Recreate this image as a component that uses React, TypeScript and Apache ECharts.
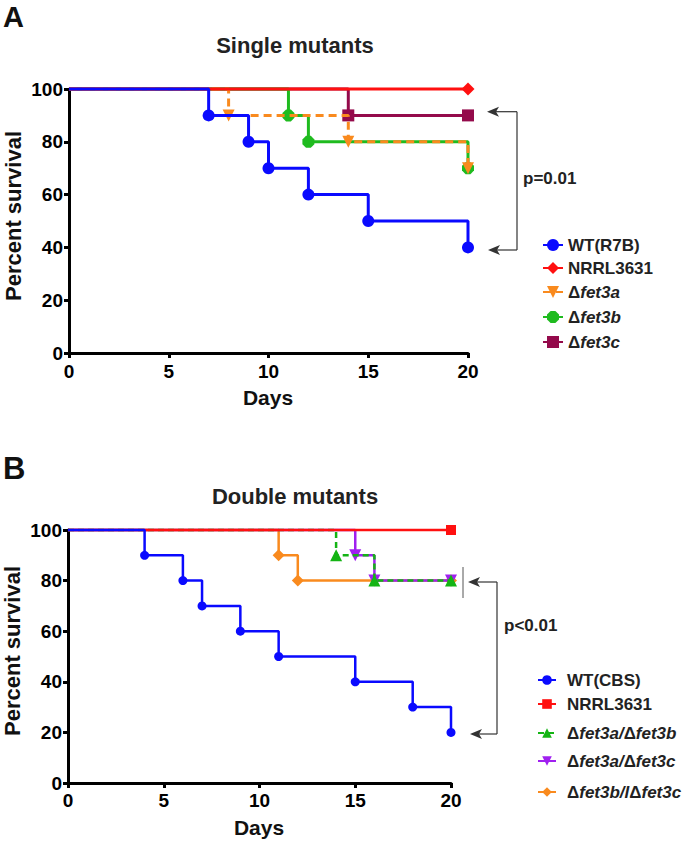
import React, { useEffect, useRef } from "react";
import * as echarts from "echarts";

const FONT = "'Liberation Sans', Arial, Helvetica, sans-serif";

// ---- Data (days, percent survival) ----
const xTicks = [0, 5, 10, 15, 20];
const yTicks = [0, 20, 40, 60, 80, 100];

// Panel A: single mutants
const aWT = [[0, 100], [7, 90], [9, 80], [10, 70], [12, 60], [15, 50], [20, 40]];
const aNRRL = [[0, 100], [20, 100]];
const aFet3a = [[0, 100], [8, 90], [14, 80], [20, 70]];
const aFet3b = [[0, 100], [11, 90], [12, 80], [20, 70]];
const aFet3c = [[0, 100], [14, 90], [20, 90]];

// Panel B: double mutants
const bWT = [[0, 100], [4, 90], [6, 80], [7, 70], [9, 60], [11, 50], [15, 40], [18, 30], [20, 20]];
const bNRRL = [[0, 100], [20, 100]];
const bFet3ab = [[0, 100], [14, 90], [16, 80], [20, 80]];
const bFet3ac = [[0, 100], [15, 90], [16, 80], [20, 80]];
const bFet3bc = [[0, 100], [11, 90], [12, 80], [20, 80]];

// legend labels
const legendA = ["WT(R7B)", "NRRL3631", "Δfet3a", "Δfet3b", "Δfet3c"];
const legendB = ["WT(CBS)", "NRRL3631", "Δfet3a/Δfet3b", "Δfet3a/Δfet3c", "Δfet3b/lΔfet3c"];
const seriesKeysA = ["A_WT", "A_NRRL", "A_fet3a", "A_fet3b", "A_fet3c"];
const seriesKeysB = ["B_WT", "B_NRRL", "B_fet3ab", "B_fet3ac", "B_fet3bc"];

const titles = ["Single mutants", "Double mutants"];
const pTexts = ["p=0.01", "p<0.01"];

const OCTAGON = "path://M30,0 L70,0 L100,30 L100,70 L70,100 L30,100 L0,70 L0,30 Z";

function toRich(label: string): string {
  if (label.indexOf("Δ") < 0) return label;
  const parts = label.split("Δ");
  let out = "";
  parts.forEach((p, i) => {
    if (i > 0) out += "{n|Δ}";
    if (p.length) out += "{i|" + p + "}";
  });
  return out;
}

function km(
  key: string,
  data: number[][],
  grid: number,
  color: string,
  symbol: string,
  size: number,
  width: number,
  opts: any = {}
) {
  return {
    type: "line",
    name: key,
    xAxisIndex: grid,
    yAxisIndex: grid,
    step: "end",
    clip: false,
    symbol,
    symbolSize: size,
    symbolRotate: opts.rotate || 0,
    showAllSymbol: true,
    data: data.map((p, i) => (i === 0 ? { value: p, symbol: "none" } : { value: p })),
    lineStyle: { color, width, type: opts.dash || "solid", cap: "butt" },
    itemStyle: { color },
    emphasis: { disabled: true },
    z: opts.z || 2,
  };
}

const axisCommon = (grid: number) => ({
  type: "value",
  gridIndex: grid,
  axisLine: { show: true, onZero: false, lineStyle: { color: "#000", width: 3 } },
  axisTick: { show: true, length: 5, lineStyle: { color: "#000", width: 3 } },
  splitLine: { show: false },
});

export default function App() {
  const ref = useRef<HTMLDivElement>(null);

  useEffect(() => {
    if (!ref.current) return;
    const chart = echarts.init(ref.current, null, { renderer: "svg" });

    const labelMap: Record<string, string> = {};
    seriesKeysA.forEach((k, i) => (labelMap[k] = toRich(legendA[i])));
    seriesKeysB.forEach((k, i) => (labelMap[k] = toRich(legendB[i])));

    const richStyles = {
      n: { fontFamily: FONT, fontSize: 17, fontWeight: "bold", fontStyle: "normal", color: "#222", lineHeight: 18 },
      i: { fontFamily: FONT, fontSize: 17, fontWeight: "bold", fontStyle: "italic", color: "#222", lineHeight: 18 },
    };

    const mkLegend = (key: string, left: number, cy: number, iw: number, ih: number, padLeft: number) => ({
      show: true,
      orient: "vertical",
      left,
      top: cy - 9,
      padding: 0,
      itemWidth: iw,
      itemHeight: ih,
      itemGap: 0,
      selectedMode: false,
      data: [key],
      formatter: (name: string) => labelMap[name],
      textStyle: {
        fontFamily: FONT,
        fontSize: 17,
        fontWeight: "bold",
        color: "#222",
        lineHeight: 18,
        padding: [0, 0, 0, padLeft],
        rich: richStyles,
      },
    });

    const legendRowsA = [245, 268, 292, 317, 342];
    const legendRowsB = [680, 704, 733, 761, 792];

    const legends = [
      ...seriesKeysA.map((k, i) => mkLegend(k, 542, legendRowsA[i], 20, 15, 0)),
      ...seriesKeysB.map((k, i) => mkLegend(k, 537, legendRowsB[i], 18, 12, 6)),
    ];

    const xAxis = [0, 1].map((g) => ({
      ...axisCommon(g),
      min: 0,
      max: 20,
      interval: 5,
      axisLabel: {
        color: "#000",
        fontSize: 19,
        fontWeight: "bold",
        fontFamily: FONT,
        margin: g === 0 ? 9 : 8,
        formatter: (v: number) => (xTicks.indexOf(v) >= 0 ? String(v) : ""),
      },
    }));
    const yAxis = [0, 1].map((g) => ({
      ...axisCommon(g),
      min: 0,
      max: 100,
      interval: 20,
      axisLabel: {
        color: "#000",
        fontSize: 19,
        fontWeight: "bold",
        fontFamily: FONT,
        margin: 6,
        formatter: (v: number) => (yTicks.indexOf(v) >= 0 ? String(v) : ""),
      },
    }));

    const series = [
      // Panel A (bottom to top)
      km("A_fet3c", aFet3c, 0, "#940a4b", "rect", 12, 3, { z: 2 }),
      km("A_fet3b", aFet3b, 0, "#1fbb1f", OCTAGON, 12, 3, { z: 3 }),
      km("A_fet3a", aFet3a, 0, "#f98a1e", "triangle", 12, 3, { z: 4, rotate: 180, dash: [8, 5] }),
      km("A_NRRL", aNRRL, 0, "#ff1010", "diamond", 13, 3, { z: 5 }),
      km("A_WT", aWT, 0, "#0a0aff", "circle", 12, 3, { z: 6 }),
      // Panel B
      km("B_fet3bc", bFet3bc, 1, "#f98a1e", "diamond", 12, 2.5, { z: 2 }),
      km("B_fet3ac", bFet3ac, 1, "#a020f0", "triangle", 12, 2.5, { z: 3, rotate: 180 }),
      km("B_fet3ab", bFet3ab, 1, "#14b414", "triangle", 12, 2.5, { z: 4, dash: [6, 4] }),
      km("B_NRRL", bNRRL, 1, "#ff1010", "rect", 10, 2.5, { z: 5 }),
      km("B_WT", bWT, 1, "#0a0aff", "circle", 9, 2.5, { z: 6 }),
    ];

    const stroke = "#333";
    const arrowHead = (tx: number, ty: number) => ({
      type: "polygon",
      shape: { points: [[tx, ty], [tx + 12, ty - 5], [tx + 9, ty], [tx + 12, ty + 5]] },
      style: { fill: stroke },
      silent: true,
    });
    const seg = (x1: number, y1: number, x2: number, y2: number, w = 1.2, c = stroke) => ({
      type: "line",
      shape: { x1, y1, x2, y2 },
      style: { stroke: c, lineWidth: w },
      silent: true,
    });
    const txt = (text: string, x: number, y: number, size: number, align = "center", fill = "#000", rot = 0) => ({
      type: "text",
      x,
      y,
      rotation: rot,
      silent: true,
      style: {
        text,
        fill,
        font: `bold ${size}px ${FONT}`,
        align,
        verticalAlign: "middle",
      },
    });

    const graphic = [
      txt("A", 3, 17, 29, "left", "#111"),
      txt("B", 3, 468, 31, "left", "#111"),
      txt(titles[0], 295, 45.5, 22, "center", "#222"),
      txt(titles[1], 295, 496, 22, "center", "#222"),
      txt("Days", 268, 397.5, 21, "center", "#111"),
      txt("Days", 259, 827.5, 21, "center", "#111"),
      txt("Percent survival", 13, 216, 22, "center", "#111", Math.PI / 2),
      txt("Percent survival", 12, 651, 22, "center", "#111", Math.PI / 2),
      // panel A bracket
      seg(490, 111.7, 517, 111.7),
      seg(517, 111.7, 517, 250),
      seg(491, 250, 517, 250),
      arrowHead(487, 111.7),
      arrowHead(488, 250),
      txt(pTexts[0], 523, 178, 17, "left", "#222"),
      // panel B bracket
      seg(463, 567, 463, 598, 1, "#555"),
      seg(471, 582, 497, 582),
      seg(497, 582, 497, 734),
      seg(473, 734, 497, 734),
      arrowHead(468, 582),
      arrowHead(470, 734),
      txt(pTexts[1], 504, 625, 17, "left", "#222"),
    ];

    chart.setOption({
      animation: false,
      backgroundColor: "#fff",
      textStyle: { fontFamily: FONT },
      grid: [
        { left: 69, top: 89, width: 399, height: 264, containLabel: false },
        { left: 68, top: 530, width: 383, height: 253, containLabel: false },
      ],
      xAxis,
      yAxis,
      legend: legends,
      series,
      graphic,
    });

    return () => {
      chart.dispose();
    };
  }, []);

  return (
    <div
      ref={ref}
      style={{ position: "absolute", left: 0, top: 0, width: 685, height: 842, background: "#fff" }}
    />
  );
}
